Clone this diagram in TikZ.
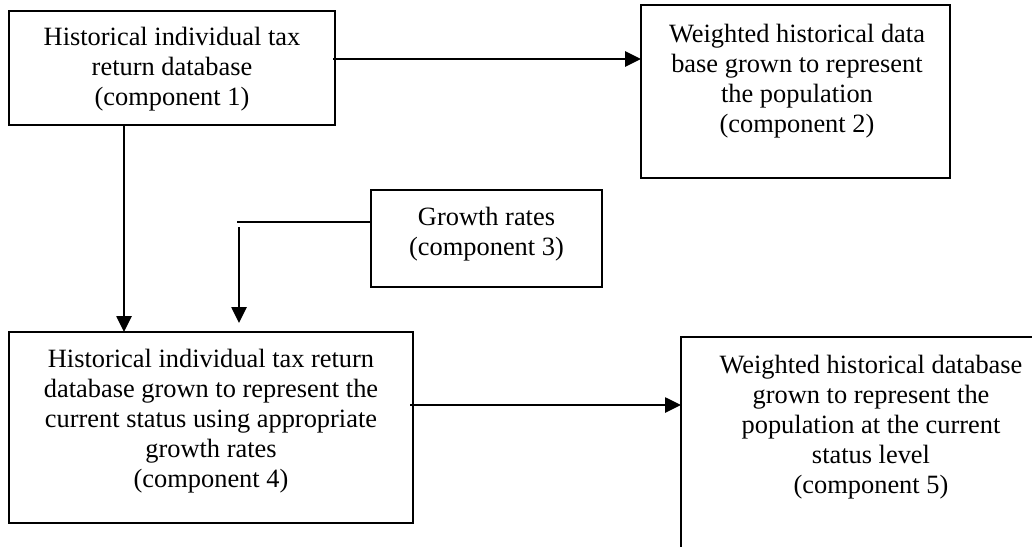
\documentclass[tikz,border=0pt]{standalone}
\usepackage{fontspec}
\setmainfont{Liberation Serif}
\usetikzlibrary{arrows.meta}
\begin{document}
\begin{tikzpicture}[x=1pt,y=-1pt,
  box/.style={draw=black,line width=2.2pt,inner sep=0pt,outer sep=0pt},
  txt/.style={anchor=north,inner sep=0pt,align=center,font=\fontsize{26.4}{30}\selectfont},
  arr/.style={line width=2.6pt,-{Triangle[length=16pt,width=15pt]}},
  ln/.style={line width=2.2pt}]
\useasboundingbox (0,0) rectangle (1032,546);
\clip (0,0) rectangle (1032,546);
% boxes
\node[box,minimum width=326pt,minimum height=114pt] (b1) at (172,68) {};
\node[box,minimum width=309pt,minimum height=173pt] (b2) at (795.5,91.5) {};
\node[box,minimum width=231pt,minimum height=97pt] (b3) at (486.5,238.5) {};
\node[box,minimum width=404pt,minimum height=191pt] (b4) at (211,427.5) {};
\node[box,minimum width=380pt,minimum height=228pt] (b5) at (871,451) {};
% texts
\node[txt] (t1) at (172,27) {Historical individual tax\\return database\\(component 1)};
\node[txt] (t2) at (797,24) {Weighted historical data\\base grown to represent\\the population\\(component 2)};
\node[txt] (t3) at (486.5,207) {Growth rates\\(component 3)};
\node[txt] (t4) at (211,349) {Historical individual tax return\\database grown to represent the\\current status using appropriate\\growth rates\\(component 4)};
\node[txt] (t5) at (871,355) {Weighted historical database\\grown to represent the\\population at the current\\status level\\(component 5)};
% connectors
\coordinate (s12) at ([xshift=-2pt,yshift=9pt]b1.east);
\draw[arr] (s12) -- (s12 -| b2.west);
\coordinate (s14) at ([xshift=-48pt]b1.south);
\draw[arr] (s14) -- (s14 |- b4.north);
\coordinate (s3) at ([yshift=16.5pt]b3.west);
\coordinate (c3a) at (237,222);
\draw[ln] (s3) -- (s3 -| c3a);
\coordinate (c3b) at (239,227);
\coordinate (c3c) at (239,323);
\draw[arr] (c3b) -- (c3c);
\coordinate (s45) at ([xshift=-3pt,yshift=22.5pt]b4.east);
\draw[arr] (s45) -- (s45 -| b5.west);
\end{tikzpicture}
\end{document}
